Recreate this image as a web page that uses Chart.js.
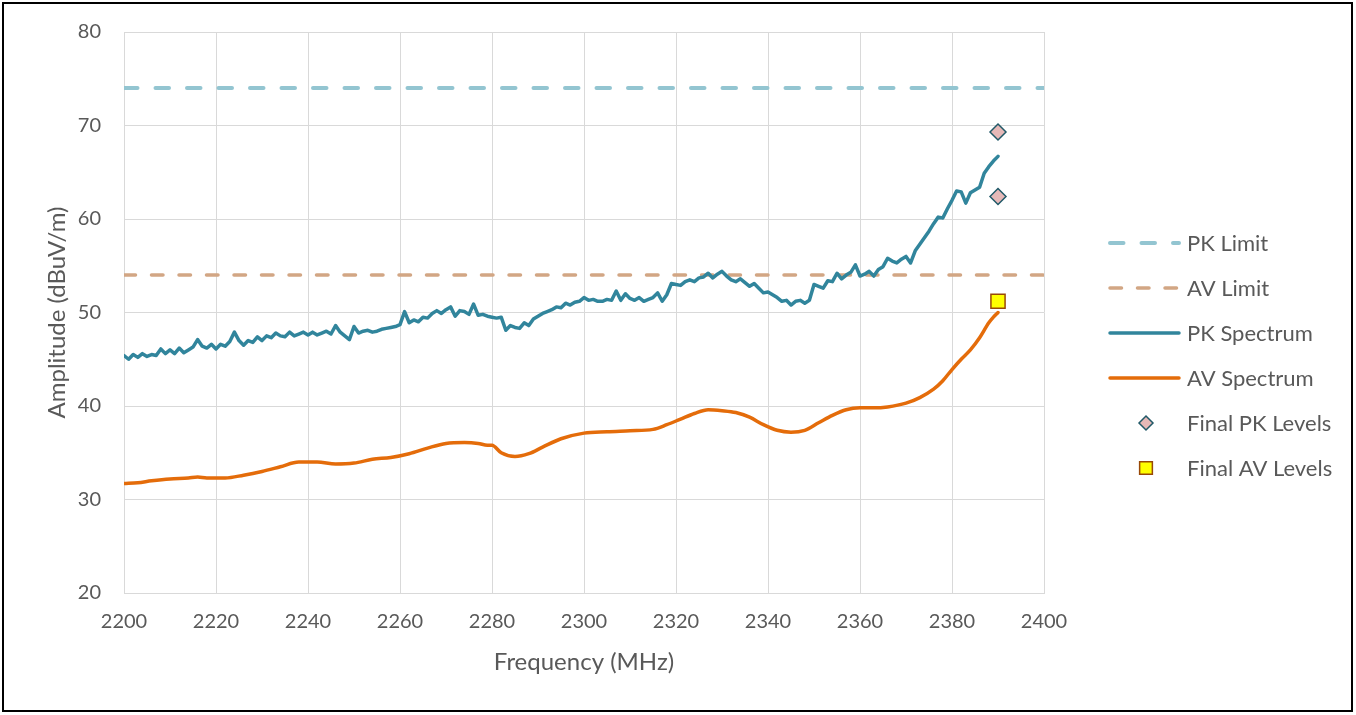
<!DOCTYPE html>
<html>
<head>
<meta charset="utf-8">
<title>Spectrum</title>
<script src="https://cdn.jsdelivr.net/npm/chart.js@4.4.1/dist/chart.umd.min.js"></script>
<style>
  html, body { margin: 0; padding: 0; background: #fff; }
  #wrap { position: relative; width: 1356px; height: 715px; }
</style>
</head>
<body>
<div id="wrap"><canvas id="c" width="1356" height="715"></canvas></div>
<script>
// Sweep frequencies (MHz) and peak-detector levels (dBuV/m)
const pkFreq = [
  2200, 2201, 2202, 2203, 2204, 2205, 2206, 2207, 2208, 2209,
  2210, 2211, 2212, 2213, 2214, 2215, 2216, 2217, 2218, 2219,
  2220, 2221, 2222, 2223, 2224, 2225, 2226, 2227, 2228, 2229,
  2230, 2231, 2232, 2233, 2234, 2235, 2236, 2237, 2238, 2239,
  2240, 2241, 2242, 2243, 2244, 2245, 2246, 2247, 2248, 2249,
  2250, 2251, 2252, 2253, 2254, 2255, 2256, 2257, 2258, 2259,
  2260, 2261, 2262, 2263, 2264, 2265, 2266, 2267, 2268, 2269,
  2270, 2271, 2272, 2273, 2274, 2275, 2276, 2277, 2278, 2279,
  2280, 2281, 2282, 2283, 2284, 2285, 2286, 2287, 2288, 2289,
  2290, 2291, 2292, 2293, 2294, 2295, 2296, 2297, 2298, 2299,
  2300, 2301, 2302, 2303, 2304, 2305, 2306, 2307, 2308, 2309,
  2310, 2311, 2312, 2313, 2314, 2315, 2316, 2317, 2318, 2319,
  2320, 2321, 2322, 2323, 2324, 2325, 2326, 2327, 2328, 2329,
  2330, 2331, 2332, 2333, 2334, 2335, 2336, 2337, 2338, 2339,
  2340, 2341, 2342, 2343, 2344, 2345, 2346, 2347, 2348, 2349,
  2350, 2351, 2352, 2353, 2354, 2355, 2356, 2357, 2358, 2359,
  2360, 2361, 2362, 2363, 2364, 2365, 2366, 2367, 2368, 2369,
  2370, 2371, 2372, 2373, 2374, 2375, 2376, 2377, 2378, 2379,
  2380, 2381, 2382, 2383, 2384, 2385, 2386, 2387, 2388, 2389,
  2390
];
const pkLevel = [
  45.4, 45.0, 45.5, 45.2, 45.6, 45.3, 45.5, 45.4, 46.1, 45.6,
  46.0, 45.6, 46.2, 45.7, 46.0, 46.3, 47.1, 46.4, 46.2, 46.6,
  46.1, 46.6, 46.4, 46.9, 47.9, 47.0, 46.5, 47.0, 46.8, 47.4,
  47.0, 47.5, 47.3, 47.8, 47.5, 47.4, 47.9, 47.5, 47.7, 47.9,
  47.6, 47.9, 47.6, 47.8, 48.0, 47.7, 48.6, 47.9, 47.5, 47.1,
  48.5, 47.8, 48.0, 48.1, 47.9, 48.0, 48.2, 48.3, 48.4, 48.5,
  48.7, 50.1, 48.9, 49.2, 49.0, 49.5, 49.4, 49.9, 50.2, 49.9,
  50.3, 50.6, 49.6, 50.2, 50.1, 49.8, 50.9, 49.7, 49.8, 49.6,
  49.5, 49.4, 49.5, 48.1, 48.6, 48.4, 48.3, 48.9, 48.6, 49.3,
  49.6, 49.9, 50.1, 50.3, 50.6, 50.5, 51.0, 50.8, 51.1, 51.2,
  51.6, 51.3, 51.4, 51.2, 51.2, 51.4, 51.3, 52.3, 51.3, 52.0,
  51.5, 51.3, 51.6, 51.2, 51.4, 51.6, 52.1, 51.2, 51.9, 53.1,
  53.0, 52.9, 53.3, 53.5, 53.3, 53.7, 53.8, 54.2, 53.7, 54.1,
  54.4, 53.9, 53.5, 53.3, 53.6, 53.2, 52.8, 53.1, 52.6, 52.1,
  52.2, 51.9, 51.6, 51.2, 51.3, 50.8, 51.2, 51.3, 51.0, 51.3,
  53.0, 52.8, 52.6, 53.4, 53.3, 54.2, 53.6, 54.0, 54.3, 55.1,
  53.9, 54.1, 54.4, 53.9, 54.6, 54.9, 55.8, 55.5, 55.3, 55.7,
  56.0, 55.3, 56.6, 57.3, 58.0, 58.7, 59.5, 60.2, 60.1, 61.1,
  62.0, 63.0, 62.9, 61.7, 62.8, 63.1, 63.4, 64.9, 65.6, 66.2,
  66.7
];

// Average-detector trace (MHz, dBuV/m)
const avFreq = [
  2200, 2203, 2206, 2210, 2214, 2216, 2218, 2222, 2226, 2230,
  2234, 2238, 2242, 2246, 2250, 2254, 2258, 2262, 2266, 2270,
  2274, 2277, 2279, 2280, 2282, 2285, 2288, 2291, 2295, 2300,
  2305, 2310, 2315, 2318, 2321, 2324, 2327, 2330, 2333, 2336,
  2339, 2342, 2345, 2348, 2351, 2354, 2357, 2360, 2363, 2366,
  2370, 2373, 2376, 2378, 2380, 2382, 2384, 2386, 2388, 2389,
  2390
];
const avLevel = [
  31.7, 31.8, 32.0, 32.2, 32.3, 32.4, 32.3, 32.3, 32.6, 33.0,
  33.5, 34.0, 34.0, 33.8, 33.9, 34.3, 34.5, 34.9, 35.5, 36.0,
  36.1, 36.0, 35.8, 35.8, 35.0, 34.6, 34.9, 35.6, 36.5, 37.1,
  37.25, 37.35, 37.5, 38.0, 38.6, 39.2, 39.6, 39.5, 39.3, 38.8,
  38.0, 37.4, 37.2, 37.4, 38.2, 39.0, 39.6, 39.8, 39.8, 39.9,
  40.3, 40.9, 41.8, 42.7, 43.9, 45.0, 46.0, 47.3, 48.9, 49.5,
  50.0
];

// Limits (dBuV/m) across the band edges
const limitFreq = [2200, 2400];
const pkLimit = [74, 74];
const avLimit = [54, 54];

// Final measurements
const finalPkFreq = [2390, 2390];
const finalPkLevel = [69.3, 62.4];
const finalAvFreq = [2390];
const finalAvLevel = [51.2];

// Axis ticks
const xTicks = [2200, 2220, 2240, 2260, 2280, 2300, 2320, 2340, 2360, 2380, 2400];
const yTicks = [20, 30, 40, 50, 60, 70, 80];

const pts = (xs, ys) => xs.map((x, i) => ({ x: x, y: ys[i] }));

const FONT = 'Lato, "Open Sans", "DejaVu Sans", sans-serif';
const TEXT = '#595959';
const GRID = '#d9d9d9';

// Legend drawn down the right-hand side
const sideLegend = {
  id: 'sideLegend',
  afterDraw(chart, args, o) {
    const ctx = chart.ctx;
    chart.data.datasets.forEach((ds, i) => {
      const y = o.top + i * o.rowGap;
      ctx.save();
      if (ds.showLine === false) {
        ctx.fillStyle = ds.pointBackgroundColor;
        ctx.strokeStyle = ds.pointBorderColor;
        ctx.lineWidth = ds.pointBorderWidth;
        Chart.helpers.drawPoint(ctx, {
          pointStyle: ds.pointStyle,
          radius: ds.legendRadius,
          rotation: 0,
          borderWidth: ds.pointBorderWidth
        }, o.markerX, y);
      } else {
        ctx.strokeStyle = ds.borderColor;
        ctx.lineWidth = ds.borderWidth;
        ctx.lineCap = ds.borderCapStyle || 'butt';
        ctx.setLineDash(ds.borderDash || []);
        ctx.beginPath();
        ctx.moveTo(o.lineStart, y);
        ctx.lineTo(o.lineEnd, y);
        ctx.stroke();
      }
      ctx.restore();
      ctx.save();
      ctx.fillStyle = TEXT;
      ctx.font = o.font;
      ctx.textAlign = 'left';
      ctx.textBaseline = 'middle';
      ctx.fillText(ds.label, o.textX, y + 1);
      ctx.restore();
    });
    // outer frame
    ctx.save();
    ctx.strokeStyle = '#000';
    ctx.lineWidth = 2;
    ctx.strokeRect(3, 3, 1349, 708);
    ctx.restore();
  }
};

const whiteBg = {
  id: 'whiteBg',
  beforeDraw(chart) {
    const ctx = chart.ctx;
    ctx.save();
    ctx.fillStyle = '#fff';
    ctx.fillRect(0, 0, chart.width, chart.height);
    ctx.restore();
  }
};

new Chart(document.getElementById('c'), {
  type: 'line',
  data: {
    datasets: [
      {
        label: 'PK Limit',
        data: pts(limitFreq, pkLimit),
        borderColor: '#93c5d1',
        borderWidth: 4,
        borderDash: [13.5, 18],
        borderCapStyle: 'round',
        pointRadius: 0,
        order: 5
      },
      {
        label: 'AV Limit',
        data: pts(limitFreq, avLimit),
        borderColor: '#d2a684',
        borderWidth: 3.5,
        borderDash: [11.5, 16],
        borderCapStyle: 'round',
        pointRadius: 0,
        order: 4
      },
      {
        label: 'PK Spectrum',
        data: pts(pkFreq, pkLevel),
        borderColor: '#31859c',
        borderWidth: 3.5,
        borderCapStyle: 'round',
        borderJoinStyle: 'round',
        tension: 0,
        pointRadius: 0,
        order: 3
      },
      {
        label: 'AV Spectrum',
        data: pts(avFreq, avLevel),
        borderColor: '#e46c0a',
        borderWidth: 3.5,
        borderCapStyle: 'round',
        borderJoinStyle: 'round',
        cubicInterpolationMode: 'monotone',
        pointRadius: 0,
        order: 2
      },
      {
        label: 'Final PK Levels',
        data: pts(finalPkFreq, finalPkLevel),
        showLine: false,
        pointStyle: 'rectRot',
        pointRadius: 8,
        legendRadius: 7,
        pointBackgroundColor: '#e6b9b8',
        pointBorderColor: '#215968',
        pointBorderWidth: 1.5,
        order: 1
      },
      {
        label: 'Final AV Levels',
        data: pts(finalAvFreq, finalAvLevel),
        showLine: false,
        pointStyle: 'rect',
        pointRadius: 10,
        legendRadius: 9,
        pointBackgroundColor: '#ffff00',
        pointBorderColor: '#984807',
        pointBorderWidth: 1.5,
        order: 0
      }
    ]
  },
  options: {
    responsive: false,
    animation: false,
    devicePixelRatio: 1,
    layout: { padding: { left: 0, top: 32, right: 312, bottom: 0 } },
    plugins: {
      legend: { display: false },
      tooltip: { enabled: false },
      sideLegend: {
        top: 243, rowGap: 45, lineStart: 1110, lineEnd: 1179,
        markerX: 1146, textX: 1187, font: '22px ' + FONT
      }
    },
    scales: {
      x: {
        type: 'linear',
        min: 2200, max: 2400,
        afterBuildTicks: (s) => { s.ticks = xTicks.map(v => ({ value: v })); },
        afterFit: (s) => { s.height = 122; s.paddingLeft = 0; s.paddingRight = 0; },
        grid: { color: GRID, lineWidth: 1, drawTicks: false },
        border: { display: true, color: GRID },
        ticks: {
          color: TEXT, font: { family: FONT, size: 20 }, padding: 17, maxRotation: 0,
          callback: (v) => String(v)
        },
        title: {
          display: true, text: 'Frequency (MHz)', color: TEXT,
          font: { family: FONT, size: 24 }, padding: { top: 0, bottom: 38 }
        }
      },
      y: {
        min: 20, max: 80,
        afterBuildTicks: (s) => { s.ticks = yTicks.map(v => ({ value: v })); },
        afterFit: (s) => { s.width = 124; s.paddingTop = 0; s.paddingBottom = 0; },
        grid: { color: GRID, lineWidth: 1, drawTicks: false },
        border: { display: true, color: GRID },
        ticks: { color: TEXT, font: { family: FONT, size: 20 }, padding: 23 },
        title: {
          display: true, text: 'Amplitude (dBuV/m)', color: TEXT,
          font: { family: FONT, size: 24 }, padding: { top: 43, bottom: 0 }
        }
      }
    }
  },
  plugins: [whiteBg, sideLegend]
});
</script>
</body>
</html>
